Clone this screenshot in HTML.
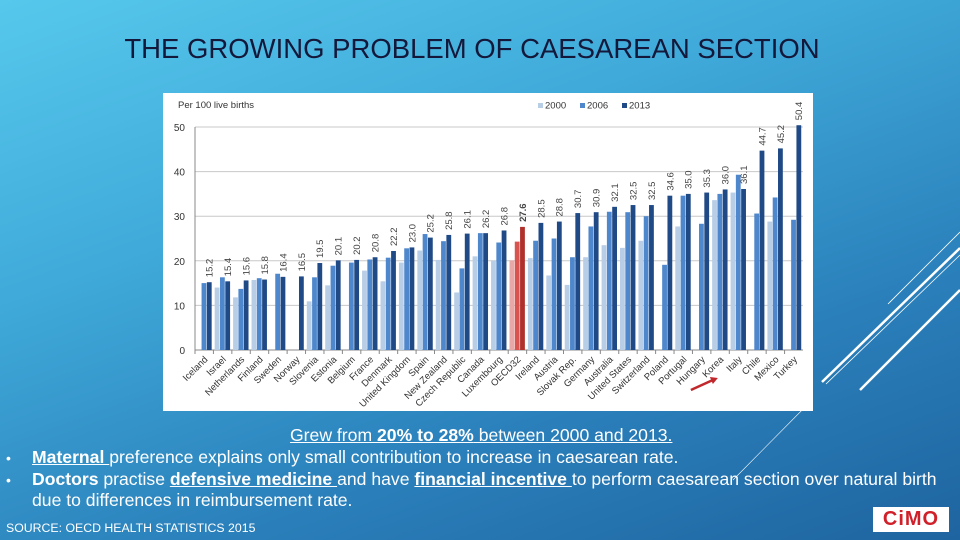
<!DOCTYPE html>
<html><head><meta charset="utf-8">
<style>
body{margin:0;width:960px;height:540px;overflow:hidden;font-family:"Liberation Sans",sans-serif;}
#slide{position:relative;width:960px;height:540px;background:linear-gradient(160deg,#56c8ec 0%,#3fa9d9 35%,#2a7fba 70%,#1e64a0 100%);}
.t{position:absolute;color:#fff;font-size:17.6px;white-space:nowrap;}
u{text-decoration:underline;}
</style></head><body>
<div id="slide">
<svg width="960" height="540" style="position:absolute;left:0;top:0">
<line x1="888" y1="304" x2="960" y2="232" stroke="#fff" stroke-width="0.8"/>
<line x1="822" y1="382" x2="960" y2="248" stroke="#fff" stroke-width="2.5"/>
<line x1="826" y1="384" x2="960" y2="255" stroke="#fff" stroke-width="0.8"/>
<line x1="860" y1="390" x2="960" y2="290" stroke="#fff" stroke-width="2.5"/>
<line x1="733" y1="480" x2="812" y2="400" stroke="#fff" stroke-width="0.6"/>
</svg>
<div class="t" style="left:0;width:944px;text-align:center;top:33px;color:#14183a;font-size:27.5px;">THE GROWING PROBLEM OF CAESAREAN SECTION</div>
<svg id="chart" width="650" height="318" style="position:absolute;left:163px;top:93px;background:#fff"></svg>
<div class="t" style="left:290px;top:425px;"><u>Grew from <b>20% to 28%</b> between 2000 and 2013.</u></div>
<div class="t" style="left:6px;top:447px;font-size:14px;line-height:22px;">•</div>
<div class="t" style="left:32px;top:447px;"><u><b>Maternal </b></u>preference explains only small contribution to increase in caesarean rate.</div>
<div class="t" style="left:6px;top:469px;font-size:14px;line-height:22px;">•</div>
<div class="t" style="left:32px;top:469px;"><b>Doctors</b> practise <u><b>defensive medicine </b></u>and have <u><b>financial incentive </b></u>to perform caesarean section over natural birth</div>
<div class="t" style="left:32px;top:490px;">due to differences in reimbursement rate.</div>
<div class="t" style="left:6px;top:521px;font-size:12.3px;">SOURCE: OECD HEALTH STATISTICS 2015</div>
<div style="position:absolute;left:873px;top:507px;width:76px;height:25px;background:#fff;color:#d0202a;font-weight:bold;font-size:20px;line-height:25px;text-align:center;letter-spacing:1px;">CiMO</div>
</div>
<script>
const countries=["Iceland","Israel","Netherlands","Finland","Sweden","Norway","Slovenia","Estonia","Belgium","France","Denmark","United Kingdom","Spain","New Zealand","Czech Republic","Canada","Luxembourg","OECD32","Ireland","Austria","Slovak Rep.","Germany","Australia","United States","Switzerland","Poland","Portugal","Hungary","Korea","Italy","Chile","Mexico","Turkey"];
const v2000=[null,14.0,11.8,15.7,null,null,10.9,14.5,null,17.8,15.4,19.6,22.3,20.2,12.9,21.0,20.0,20.1,20.6,16.7,14.6,20.8,23.5,22.9,24.5,null,27.7,null,33.6,35.3,null,28.8,null];
const v2006=[15.0,16.3,13.7,16.1,17.1,null,16.3,18.9,19.6,20.3,20.7,22.8,26.0,24.4,18.3,26.2,24.1,24.3,24.5,25.0,20.8,27.7,31.0,30.9,30.0,19.1,34.6,28.3,35.0,39.3,30.6,34.2,29.2];
const v2013=[15.2,15.4,15.6,15.8,16.4,16.5,19.5,20.1,20.2,20.8,22.2,23.0,25.2,25.8,26.1,26.2,26.8,27.6,28.5,28.8,30.7,30.9,32.1,32.5,32.5,34.6,35.0,35.3,36.0,36.1,44.7,45.2,50.4];
const yTicks=[0,10,20,30,40,50];
const series=["2000","2006","2013"];
const svg=document.getElementById('chart');const NS="http://www.w3.org/2000/svg";
const L=32,R=640,T=34,B=257;
const y=v=>B-(v/50)*(B-T);
const gw=(R-L)/countries.length;
const x=i=>L+i*gw;
function mk(t,a,p){const e=document.createElementNS(NS,t);for(const k in a)e.setAttribute(k,a[k]);(p||svg).appendChild(e);return e;}
const cols=["#b8cde6","#4f87cc","#1f4a86"],red=["#e8a8a8","#d9534f","#b0302c"];
yTicks.forEach(t=>{
 const g=mk('line',{x1:L,x2:R,y1:y(t),y2:y(t),stroke:t?"#c8c8c8":"#888","stroke-width":1});
 
 
 const tx=mk('text',{x:L-10,y:y(t)+4,"text-anchor":"end","font-size":10,fill:"#333"});tx.textContent=t;
 
 
});
mk('line',{x1:L,x2:L,y1:T,y2:B,stroke:"#888"});
const yt=mk('text',{x:15,y:15,"font-size":9.5,fill:"#333"});yt.textContent="Per 100 live births";


series.forEach((s,k)=>{
 const lx=375+k*42;
 const r=mk('rect',{x:lx,y:10,width:5,height:5,fill:cols[k]});
 
 
 const t=mk('text',{x:lx+7,y:15.5,"font-size":9.5,fill:"#333"});t.textContent=s;
 
 
});
const bw=5.3;
countries.forEach((c,i)=>{
 const cx=x(i)+gw/2;const isO=c==="OECD32";const cc=isO?red:cols;
 [v2000,v2006,v2013].forEach((arr,k)=>{
  const v=arr[i];if(v==null)return;
  const b=mk('rect',{x:cx-bw*1.5+k*bw,y:y(v),width:bw-0.5,height:B-y(v),fill:cc[k]});
  
  
 });
 const bx=cx+bw*1.5-2.5,by=y(v2013[i])-5;
 const lb=mk('text',{x:bx+3,y:by,"font-size":9.5,fill:"#444","font-weight":isO?"bold":"normal",transform:`rotate(-90 ${bx+3} ${by})`});
 lb.textContent=v2013[i].toFixed(1);
 
 
 mk('line',{x1:x(i),x2:x(i),y1:B,y2:B+4,stroke:"#888"});
 const cl=mk('text',{x:cx+4,y:B+10,"text-anchor":"end","font-size":9.5,fill:"#333",transform:`rotate(-45 ${cx+4} ${B+10})`});
 cl.textContent=c;
 
 
});
const ar=mk('line',{x1:x(28)-20,y1:B+40,x2:x(28)+2,y2:B+30,stroke:"#c0282c","stroke-width":2.5});


mk('polygon',{points:`${x(28)+7},${B+28} ${x(28)-1},${B+27} ${x(28)+2},${B+34}`,fill:"#c0282c"});
</script>
</body></html>
